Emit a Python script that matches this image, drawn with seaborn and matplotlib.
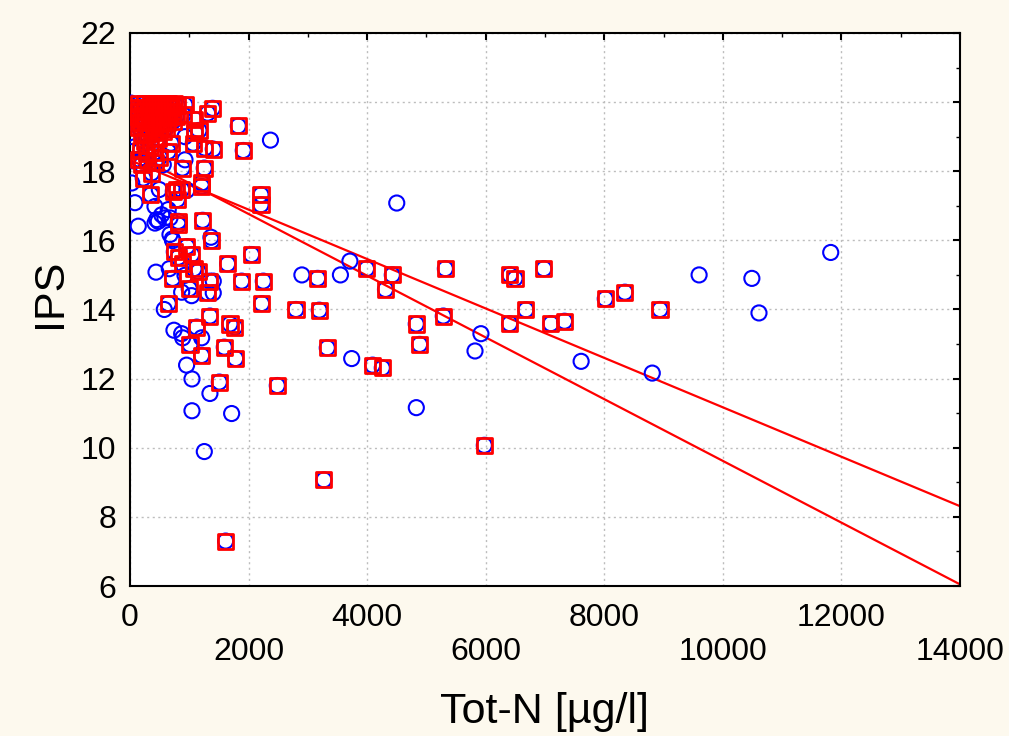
import numpy as np
import pandas as pd
import matplotlib
matplotlib.use("Agg")
import matplotlib.pyplot as plt
import seaborn as sns
from matplotlib.ticker import MultipleLocator, FixedLocator, FixedFormatter

# ---- data: samples also marked with a red square (subset) ----
sub_x = [3990, 4425, 4310, 5320, 6409, 6494, 6983, 3166, 3193, 2800, 4829, 5285, 4886, 3328,
         4093, 4256, 5977, 3272, 6404, 6679, 7100, 7330, 8017, 8349, 8940, 1507, 2485, 1614,
         1378, 961, 748, 1040, 815, 2052, 1647, 883, 1080, 1152, 720, 1349, 1884, 2249, 1000,
         1310, 646, 2221, 1349, 1125, 1687, 1771, 1012, 1591, 1209, 1782,
         928, 1394, 1310, 1096, 899, 1827, 1164, 1096, 562, 1068, 1265, 1405, 1911, 692, 646,
         883, 1253, 1209, 1209, 787, 872, 354, 2210, 2210, 815, 815, 1226, 197, 422, 224, 366,
         798, 731,
         150, 250, 350, 450, 550, 650, 750,
         100, 200, 300, 400, 500, 600, 700, 800,
         150, 250, 330, 420, 520, 620, 720,
         120, 220, 310, 400, 480, 580, 660, 780,
         180, 270, 360, 450, 540, 640, 730,
         150, 240, 330, 430, 520, 610,
         200, 300, 400, 480, 250, 350, 180, 280, 420, 150, 300, 500]
sub_y = [15.18, 15.0, 14.58, 15.18, 15.0, 14.9, 15.18, 14.9, 13.98, 14.0, 13.58, 13.81, 12.99, 12.89,
         12.39, 12.31, 10.07, 9.07, 13.59, 13.99, 13.59, 13.66, 14.31, 14.5, 14.0, 11.9, 11.8, 7.30,
         15.99, 15.82, 15.67, 15.59, 15.51, 15.59, 15.32, 15.32, 15.18, 15.1, 14.9, 14.82, 14.82, 14.82, 14.6,
         14.48, 14.17, 14.17, 13.81, 13.49, 13.58, 13.49, 12.99, 12.91, 12.67, 12.58,
         19.92, 19.82, 19.68, 19.49, 19.63, 19.31, 19.18, 19.12, 19.15, 18.81, 18.67, 18.64, 18.6, 18.81, 18.57,
         18.09, 18.09, 17.66, 17.56, 17.47, 17.47, 17.32, 17.32, 17.03, 16.55, 16.45, 16.58, 18.19, 18.24, 17.8, 17.95,
         17.18, 17.42,
         19.95, 19.95, 19.95, 19.95, 19.95, 19.95, 19.95,
         19.85, 19.85, 19.85, 19.88, 19.85, 19.88, 19.85, 19.9,
         19.72, 19.75, 19.7, 19.72, 19.75, 19.7, 19.72,
         19.58, 19.6, 19.55, 19.6, 19.55, 19.6, 19.55, 19.58,
         19.42, 19.45, 19.4, 19.45, 19.4, 19.42, 19.45,
         19.28, 19.3, 19.25, 19.3, 19.28, 19.25,
         19.1, 19.05, 19.12, 18.95, 18.85, 18.75, 18.6, 18.5, 18.55, 18.35, 18.3, 18.4]

# ---- data: samples shown only with a blue circle ----
other_x = [11820, 10490, 10610, 9600, 8810, 7610, 5820, 5920, 4830, 4500, 3710, 3550, 2900, 3740, 2370,
           1046, 1349, 1046, 1715, 1254, 955,
           675, 720, 1366, 439, 663, 928, 1405, 872, 1040, 1405, 579, 742, 872, 889, 1209,
           928, 928, 495, 140, 478, 422, 84, 30, 562, 422, 646, 535, 450, 590, 675, 714, 960,
           20, 80, 50, 70, 60, 100, 30]
other_y = [15.65, 14.9, 13.9, 15.0, 12.16, 12.5, 12.8, 13.3, 11.16, 17.08, 15.4, 15.0, 15.0, 12.58, 18.9,
           11.99, 11.57, 11.07, 10.99, 9.89, 12.39,
           16.17, 15.99, 16.09, 15.08, 15.18, 14.99, 14.82, 14.5, 14.4, 14.48, 14.0, 13.4, 13.3, 13.18, 13.18,
           19.0, 18.33, 17.47, 16.41, 16.55, 16.5, 17.09, 17.66, 18.19, 16.98, 16.89, 16.74, 16.6, 16.65, 16.65, 16.04, 17.45,
           19.97, 19.7, 19.0, 18.7, 18.3, 19.4, 19.8]

# ---- fitted regression lines (intercept, slope) ----
fit_upper = (18.32, -7.15e-4)
fit_lower = (18.55, -8.93e-4)

x_ticks = [0, 2000, 4000, 6000, 8000, 10000, 12000, 14000]
y_ticks = [6, 8, 10, 12, 14, 16, 18, 20, 22]
x_label = "Tot-N [µg/l]"
y_label = "IPS"

bg = "#FDF9EE"
sns.set_theme(style="white")
plt.rcParams['font.family'] = ['Liberation Sans', 'DejaVu Sans']

all_df = pd.DataFrame({"x": sub_x + other_x, "y": sub_y + other_y})
sub_df = pd.DataFrame({"x": sub_x, "y": sub_y})

fig = plt.figure(figsize=(10.09, 7.36), dpi=100, facecolor=bg)
ax = fig.add_axes([0.1288, 0.2038, 0.8226, 0.7514])
ax.set_facecolor("white")

xr = np.array([x_ticks[0], x_ticks[-1]], dtype=float)
for a, b in (fit_upper, fit_lower):
    line_df = pd.DataFrame({"x": xr, "y": a + b * xr})
    sns.lineplot(data=line_df, x="x", y="y", ax=ax, color="#FF0000", linewidth=1.6, zorder=2)

sns.scatterplot(data=all_df, x="x", y="y", ax=ax, marker="o", s=118,
                facecolor="none", edgecolor="#0000FF", linewidth=1.5, zorder=3)
sns.scatterplot(data=sub_df, x="x", y="y", ax=ax, marker="s", s=118,
                facecolor="none", edgecolor="#FF0000", linewidth=2.0, zorder=4)

ax.set_xlim(x_ticks[0], x_ticks[-1])
ax.set_ylim(y_ticks[0], y_ticks[-1])
ax.xaxis.set_major_locator(FixedLocator(x_ticks))
ax.xaxis.set_major_formatter(FixedFormatter(
    [str(t) if i % 2 == 0 else "\n" + str(t) for i, t in enumerate(x_ticks)]))
ax.yaxis.set_major_locator(FixedLocator(y_ticks))
ax.xaxis.set_minor_locator(MultipleLocator(1000))
ax.yaxis.set_minor_locator(MultipleLocator(1))

ax.grid(True, which="major", linestyle=(0, (1.5, 2.5)), color="#BDBDBD", linewidth=1.0)
ax.set_axisbelow(True)
for s in ax.spines.values():
    s.set_color("black")
    s.set_linewidth(1.5)
    s.set_visible(True)

ax.tick_params(which="both", direction="in", top=True, right=True, colors="black",
               labelsize=23, labelcolor="black")
ax.tick_params(which="major", length=5, width=1.5)
ax.tick_params(which="minor", length=3, width=1.0)
ax.tick_params(axis="x", which="major", pad=12)
ax.tick_params(axis="y", which="major", pad=10)

ax.set_xlabel(x_label, fontsize=31, color="black")
ax.set_ylabel(y_label, fontsize=31, color="black")
ax.xaxis.set_label_coords(0.5, -0.228)
ax.xaxis.label.set_va("center")
ax.yaxis.set_label_coords(-0.096, 0.53)
ax.yaxis.label.set_va("center")

fig.savefig("out.png", dpi=100, facecolor=bg)
